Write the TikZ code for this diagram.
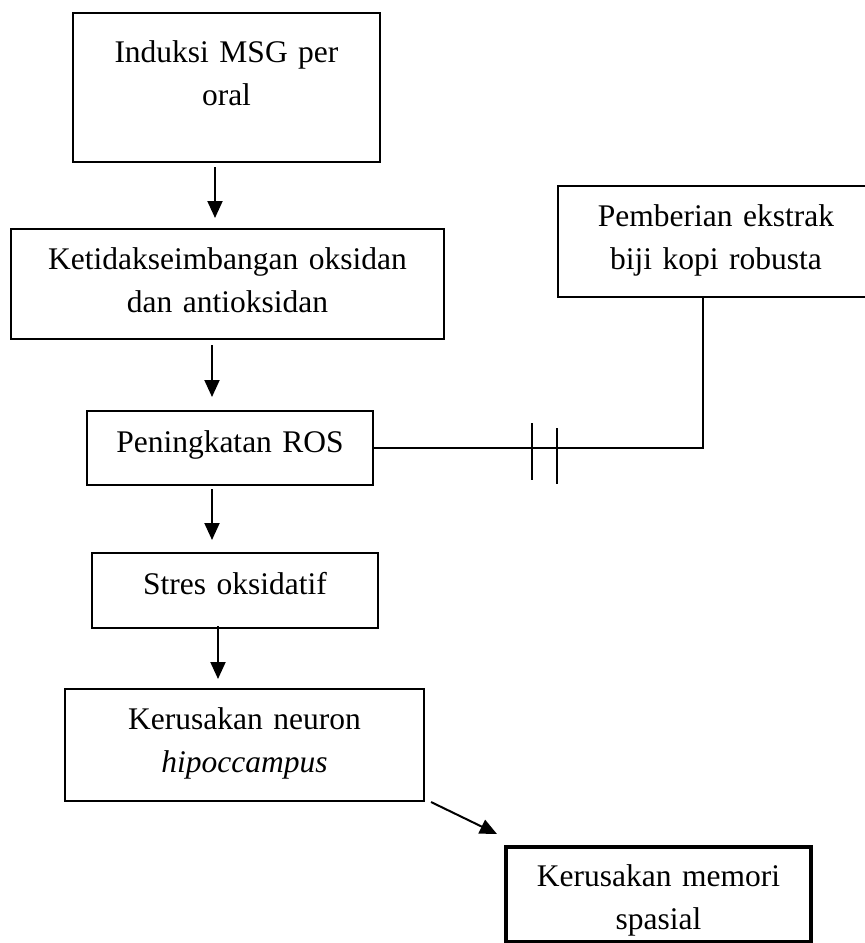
\documentclass[tikz,border=0pt]{standalone}
\usepackage{fontspec}
\setmainfont{Liberation Serif}
\usetikzlibrary{arrows.meta}

\begin{document}
\begin{tikzpicture}[x=0.5pt,y=-0.5pt,>={Triangle[length=8.5pt,width=7.5pt]},font=\fontsize{15.75}{21.5}\selectfont]
    \tikzstyle{rec}=[draw=black,line width=1pt,rectangle,inner sep=0pt,align=center,anchor=north]
    \useasboundingbox (0,0) rectangle (865,943);

    \node[rec, text width=153.5pt, text height=24.5pt, text depth=50pt] (msg) at (226.5,12) {Induksi MSG per\\oral};
    \node[rec, text width=216.5pt, text height=20pt, text depth=35pt] (imbang) at (227.5,228) {Ketidakseimbangan oksidan\\dan antioksidan};
    \node[rec, text width=143pt, text height=20.5pt, text depth=16.5pt] (ros) at (230,410) {Peningkatan ROS};
    \node[rec, text width=143pt, text height=20.5pt, text depth=17pt] (stres) at (235,552) {Stres oksidatif};
    \node[rec, text width=179.5pt, text height=20pt, text depth=36pt] (neuron) at (244.5,688) {Kerusakan neuron\\\textit{hipoccampus}};
    \node[rec, line width=2pt, text width=152.5pt, text height=19.5pt, text depth=28pt] (memori) at (658.5,845) {Kerusakan memori\\spasial};
    \node[rec, text width=158pt, text height=20pt, text depth=35.5pt] (beri) at (716,185) {Pemberian ekstrak\\biji kopi robusta};

    \draw[->, line width=1pt] ([xshift=-5.75pt,yshift=-2pt]msg.south) -- ([xshift=-6.25pt,yshift=5pt]imbang.north);
    \draw[->, line width=1pt] ([xshift=-7.75pt,yshift=-2.5pt]imbang.south) -- ([xshift=-9pt,yshift=6.5pt]ros.north);
    \draw[->, line width=1pt] ([xshift=-9pt,yshift=-1.5pt]ros.south) -- ([xshift=-11.5pt,yshift=6pt]stres.north);
    \draw[->, line width=1pt] ([xshift=-8.5pt,yshift=1.5pt]stres.south) -- ([xshift=-13.25pt,yshift=4.5pt]neuron.north);
    \draw[->, line width=1pt] ([xshift=3pt]neuron.south east) -- ([xshift=-3.5pt,yshift=5.5pt]memori.north west);

    % penghambat
    \draw[line width=1pt] (ros.east) -| ([xshift=-6.75pt]beri.south);
    \draw[line width=1pt] ([xshift=79pt,yshift=12.5pt]ros.east) -- ++(0,57);
    \draw[line width=1pt] ([xshift=91.5pt,yshift=10pt]ros.east) -- ++(0,56);

\end{tikzpicture}
\end{document}
